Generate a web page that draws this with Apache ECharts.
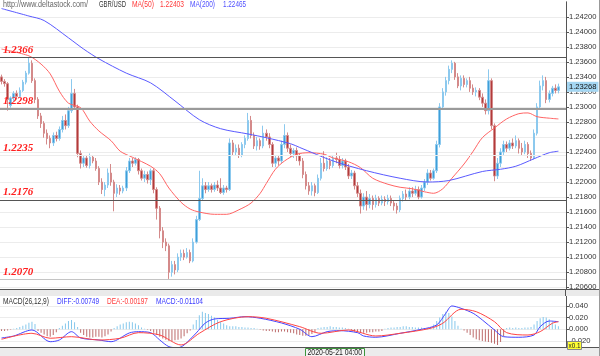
<!DOCTYPE html>
<html><head><meta charset="utf-8">
<script src="https://cdn.jsdelivr.net/npm/echarts@6/dist/echarts.min.js"></script>
<style>html,body{margin:0;padding:0;background:#fff}#c{width:600px;height:356px}</style>
</head><body><div id="c"></div>
<script>
// candles: [open, close, low, high] in pips above 1.2000
const ohlcPips = [
[340,334,330,343],[334,331,327,337],[331,310,295,333],[302,312,299,314],[312,318,308,321],
[318,314,310,322],[314,322,312,326],[322,333,320,336],[333,345,330,348],[345,358,343,366],
[358,335,332,362],[335,310,305,338],[310,288,284,313],[288,278,272,292],[278,265,259,281],
[265,258,250,270],[258,252,245,262],[252,262,248,266],[262,258,254,267],[258,270,255,274],
[270,282,266,288],[282,275,270,290],[275,295,272,300],[295,318,292,337],[318,300,296,324],
[300,238,233,303],[238,225,218,242],[225,232,220,236],[232,222,219,236],[222,233,218,238],
[233,228,225,236],[228,218,215,232],[218,200,196,221],[200,190,184,205],[190,196,181,200],
[196,212,192,218],[212,200,195,224],[200,185,161,203],[185,192,180,197],[192,188,183,196],
[188,192,185,195],[192,215,188,220],[215,228,212,232],[228,225,220,232],[225,230,222,233],
[230,215,210,232],[215,205,202,218],[205,210,200,215],[210,203,198,214],[203,215,196,218],
[215,190,185,218],[190,165,150,193],[165,135,125,168],[135,120,112,140],[120,115,108,125],
[115,80,71,118],[80,90,74,95],[90,83,77,95],[83,100,80,105],[100,105,95,110],
[105,100,96,110],[100,106,98,112],[106,95,92,110],[95,120,93,125],[120,150,118,155],
[150,178,148,215],[178,195,175,205],[195,190,185,200],[190,195,187,200],[195,190,186,198],
[190,196,187,200],[196,192,188,202],[192,186,184,205],[186,192,183,196],[192,190,186,195],
[190,252,188,258],[252,240,235,256],[240,245,236,250],[245,236,232,250],[236,250,233,253],
[250,258,245,262],[258,282,255,292],[282,262,258,288],[262,248,244,266],[248,255,242,260],
[255,248,243,258],[248,265,245,275],[265,260,255,270],[260,250,245,265],[250,225,220,253],
[225,232,220,236],[232,228,222,236],[228,250,225,255],[250,262,245,277],[262,245,240,266],
[245,238,233,250],[238,242,232,245],[242,235,228,246],[235,228,222,238],[228,210,205,232],
[210,195,190,214],[195,188,183,200],[188,195,182,200],[195,186,181,198],[186,205,184,210],
[205,225,202,232],[225,218,214,241],[218,228,215,233],[228,222,217,232],[222,232,219,236],
[232,230,225,239],[230,222,218,235],[222,228,218,232],[228,220,216,231],[220,208,204,224],
[208,212,204,216],[212,195,190,215],[195,185,180,200],[185,168,158,190],[168,180,163,185],
[180,170,162,188],[170,178,165,184],[178,170,163,182],[170,178,166,183],[178,172,168,181],
[172,177,169,182],[177,174,168,181],[174,178,170,183],[178,172,168,182],[172,168,162,176],
[168,163,158,172],[163,178,160,182],[178,184,174,188],[184,180,176,190],[180,188,177,193],
[188,185,180,193],[185,190,182,195],[190,180,177,194],[180,192,178,196],[192,200,188,204],
[200,212,196,217],[212,205,202,216],[205,215,203,218],[215,250,212,255],[250,300,246,305],
[300,320,296,325],[320,335,315,340],[335,350,330,355],[350,358,345,362],[358,340,336,360],
[340,328,325,345],[328,338,322,342],[338,330,326,342],[330,335,326,338],[335,325,320,340],
[325,320,316,330],[320,322,314,326],[322,313,309,325],[313,305,300,318],[305,295,290,310],
[295,335,290,350],[335,275,270,338],[275,208,201,278],[208,225,204,232],[225,240,220,245],
[240,250,236,255],[250,245,240,254],[245,252,242,256],[252,248,244,258],[248,255,245,262],
[255,245,238,258],[245,240,236,252],[240,250,237,255],[250,238,232,253],[238,232,228,242],
[232,265,230,270],[265,300,262,305],[300,328,296,335],[328,335,322,342],[335,310,305,340],
[310,318,306,322],[318,325,314,328],[325,322,318,330],[322,326.8,318,331]
];
// moving averages: [candle index, pips]
const ma50Pts = [[0,377],[9,368],[13,357],[16,344],[19,321],[22,305],[26,299],[29,281],[32,268],[36,255],
[39,241],[43,233],[49,221],[52,211],[55,192],[59,173],[62,164],[65,160],[70,157],[74,157],[78,163],
[82,172],[85,185],[87,198],[90,217],[93,228],[97,237],[101,239],[106,237],[109,232],[114,227],
[118,219],[122,205],[127,197],[131,193],[135,191],[139,187],[142,185],[145,191],[148,205],[152,224],
[155,241],[158,259],[162,272],[166,284],[170,291],[173,292],[176,287],[180,285],[183,284]];
const ma200Pts = [[0,431],[9,421],[14,415],[22,392],[27,377],[32,364],[41,345],[49,332],[57,308],
[65,283],[72,271],[81,264],[87,259],[95,251],[98,246],[109,228],[120,215],[131,205],[140,200],
[147,202],[158,214],[164,217],[169,221],[175,231],[180,239],[183,241]];
// MACD lines [candle index, value]
const diffPts = [[0,-0.0149],[4,-0.0115],[10,-0.0012],[16,-0.0213],[19,-0.0184],[23,-0.0041],[26,-0.0149],
[32,-0.0184],[36,-0.0213],[42,-0.0063],[45,-0.0041],[49,-0.0058],[52,-0.0184],[55,-0.0298],[58,-0.0316],
[60,-0.0269],[64,-0.0063],[67,0.0108],[70,0.0177],[75,0.0189],[80,0.0216],[85,0.0189],[92,0.0108],
[98,0.0],[102,-0.0127],[107,-0.0041],[111,-0.0024],[117,-0.0058],[119,-0.0115],[123,-0.0137],
[131,-0.0069],[138,0.0],[143,0.0074],[146,0.0274],[148,0.0400],[151,0.0360],[155,0.0274],[158,0.0160],
[162,-0.0012],[165,-0.0127],[170,-0.0137],[175,-0.0098],[177,0.0045],[180,0.0142],[183,0.0130]];
const deaPts = [[0,-0.0172],[10,-0.0069],[16,-0.0154],[23,-0.0127],[32,-0.0184],[39,-0.0154],[45,-0.0058],
[52,-0.0098],[59,-0.0269],[65,-0.0069],[72,0.0130],[81,0.0216],[87,0.0189],[98,0.0045],[105,-0.0069],
[114,-0.0012],[123,-0.0115],[131,-0.0069],[141,0.0017],[145,0.0103],[151,0.0343],[156,0.0302],
[162,0.0130],[166,-0.0058],[173,-0.0098],[177,-0.0041],[181,0.0103],[183,0.0130]];
// MACD histogram, units of 0.001
const macdHist = [-3,-3,-2,-1, 1,2,4,6,8,11,13, 9, -3,-6,-9,-12,-13, -10,-5, 2,6,10,14,16,12, 4,
-6,-10,-13,-14,-14,-13,-13,-14,-12,-9, -4, 2,5,8,10,12,13,12,10,7, 3,1,-1,
-3,-6,-10,-13,-16,-18,-20,-20,-19,-18,-16,-12, -7,-2, 8,16,24,30,28,26,23,20, 16,13,10,7,5,5,
5,4,4,3,3,2,2,1, -1,-2,-3,-3,-4,-5,-5,-4,-4,-5,-6,-7, -9,-10,-11,-11,-10,-8,-5,
2,3,4,4,5,4,4,3,3,2,1, -2,-4,-5,-5,-6,-6,-5,-5,-4,-4,-3, 1,2,3,3,4,4,5,5,4,4,3,3,3,2,2,
4,8,14,20,26,30,28,22,14,6, 1,-2, -6,-10,-14,-17,-19,-20,-21,-22,-23,-25,-27,-22,-12,
2,3,2,3,2,2,3,3,4, 8,14,19,21,20,17,12,8,5];
const levels = [1.2366, 1.2298, 1.2235, 1.2176, 1.2070];
const lastPrice = 1.23268;
const headerTexts = ['http://www.deltastock.com/', 'GBR/USD', 'MA(50)', '1.22403', 'MA(200)', '1.22465'];
const macdTexts = ['MACD(26,12,9)', 'DIFF:-0.00749', 'DEA:-0.00197', 'MACD:-0.01104'];
const timeLabel = '2020-05-21 04:00';

const toP = p => +(1.2 + p / 10000).toFixed(5);
const ohlc = ohlcPips.map(r => r.map(toP));
const categories = ohlc.map((_, i) => String(i)).concat(['', '']);
const ma50 = ma50Pts.map(([i, p]) => [i, toP(p)]);
const ma200 = ma200Pts.map(([i, p]) => [i, toP(p)]);
const hist = macdHist.map(v => ({value: v / 1000, itemStyle: {color: v >= 0 ? '#86c8ec' : '#bd6a6a'}}));

const NF = "'Liberation Sans',Arial,sans-serif";
const levelStyles = [
  {color: '#555', width: 1}, {color: '#9a9a9a', width: 2}, {color: '#ececec', width: 1},
  {color: '#555', width: 1}, {color: '#c4c4c4', width: 1}
];

const mctx = document.createElement('canvas').getContext('2d');
const fitText = (x0, x1, y, t, color, size) => {
  const font = (size || 9) + 'px ' + NF;
  mctx.font = font;
  const w = mctx.measureText(t).width || 1;
  return {type: 'text', z: 101, x: x0, y, scaleX: (x1 - x0) / w,
    style: {text: t, fill: color, font, textVerticalAlign: 'middle'}};
};

const chart = echarts.init(document.getElementById('c'), null, {renderer: 'canvas'});
const axisLabelStyle = {fontSize: 7.6, color: '#333', margin: 3, fontFamily: NF, showMinLabel: false, showMaxLabel: false};

chart.setOption({
  animation: false,
  backgroundColor: '#fff',
  grid: [
    {left: 0, width: 566, top: 1.78, height: 300.4},
    {left: 0, width: 566, top: 294.3, height: 58.3}
  ],
  xAxis: [
    {type: 'category', gridIndex: 0, data: categories, boundaryGap: true, show: false},
    {type: 'category', gridIndex: 1, data: categories, boundaryGap: true, show: false}
  ],
  yAxis: [
    {type: 'value', gridIndex: 0, position: 'right', min: 1.204, max: 1.244, interval: 0.002,
     axisLine: {show: true, lineStyle: {color: '#555'}}, axisTick: {show: true, length: 3, lineStyle: {color: '#555'}},
     axisLabel: Object.assign({formatter: v => v.toFixed(5)}, axisLabelStyle),
     splitLine: {show: true, showMinLine: false, showMaxLine: false, lineStyle: {color: '#ececec'}}},
    {type: 'value', gridIndex: 1, position: 'right', min: -0.04, max: 0.06, interval: 0.02,
     axisLine: {show: true, lineStyle: {color: '#555'}}, axisTick: {show: true, length: 3, lineStyle: {color: '#555'}},
     axisLabel: Object.assign({formatter: v => v.toFixed(3)}, axisLabelStyle),
     splitLine: {show: true, showMinLine: false, showMaxLine: false, lineStyle: {color: '#ececec'}}}
  ],
  series: [
    {type: 'candlestick', xAxisIndex: 0, yAxisIndex: 0, data: ohlc, barWidth: 2,
     itemStyle: {color: '#3f9fd8', color0: '#b23b3b', borderColor: '#8cc9ee', borderColor0: '#d48a8a', borderWidth: 1},
     markLine: {silent: true, symbol: ['none', 'none'], animation: false, precision: 5,
       data: levels.map((v, k) => ({yAxis: v, lineStyle: Object.assign({type: 'solid'}, levelStyles[k]),
         label: {show: true, position: 'insideStartTop', distance: [3, 2], formatter: v.toFixed(4), color: '#ff2020',
           fontStyle: 'italic', fontWeight: 'bold', fontSize: 11, fontFamily: "'Liberation Serif',serif"}}))
         .concat([{yAxis: lastPrice, lineStyle: {color: 'rgba(0,0,0,0)', width: 1},
           label: {show: true, position: 'end', distance: 1, formatter: lastPrice.toFixed(5), color: '#111',
             backgroundColor: '#a4d6f2', padding: [1, 2, 1, 2], fontSize: 7.6, fontFamily: NF}}])
     }},
    {type: 'line', xAxisIndex: 0, yAxisIndex: 0, data: ma50, smooth: 0.3, showSymbol: false,
     lineStyle: {color: '#ff6464', width: 1}, z: 3},
    {type: 'line', xAxisIndex: 0, yAxisIndex: 0, data: ma200, smooth: 0.3, showSymbol: false,
     lineStyle: {color: '#5a5aff', width: 1}, z: 3},
    {type: 'bar', xAxisIndex: 1, yAxisIndex: 1, data: hist, barWidth: 1},
    {type: 'line', xAxisIndex: 1, yAxisIndex: 1, data: diffPts, smooth: 0.3, showSymbol: false,
     lineStyle: {color: '#4444ff', width: 1}, z: 3},
    {type: 'line', xAxisIndex: 1, yAxisIndex: 1, data: deaPts, smooth: 0.3, showSymbol: false,
     lineStyle: {color: '#ff4444', width: 1}, z: 3}
  ],
  graphic: [
    fitText(3, 88, 5, headerTexts[0], '#666'),
    fitText(99, 126, 5, headerTexts[1], '#333'),
    fitText(132, 154, 5, headerTexts[2], '#ff3a3a'),
    fitText(160, 184, 5, headerTexts[3], '#ff3a3a'),
    fitText(190, 215, 5, headerTexts[4], '#5050ff'),
    fitText(223, 246, 5, headerTexts[5], '#5050ff'),
    {type: 'rect', z: 99, shape: {x: 0, y: 289, width: 600, height: 7}, style: {fill: '#eaeaea'}},
    {type: 'line', z: 100, shape: {x1: 0, y1: 289.5, x2: 600, y2: 289.5}, style: {stroke: '#555', lineWidth: 1}},
    {type: 'line', z: 100, shape: {x1: 565.5, y1: 289, x2: 565.5, y2: 296}, style: {stroke: '#555', lineWidth: 1}},
    fitText(3, 49, 301.5, macdTexts[0], '#333'),
    fitText(57, 99, 301.5, macdTexts[1], '#3a3aff'),
    fitText(107, 148, 301.5, macdTexts[2], '#ff3a3a'),
    fitText(156, 203, 301.5, macdTexts[3], '#3a3aff'),
    {type: 'rect', z: 99, shape: {x: 0, y: 347.5, width: 600, height: 9}, style: {fill: '#ececec'}},
    {type: 'line', z: 100, shape: {x1: 0, y1: 347.5, x2: 600, y2: 347.5}, style: {stroke: '#555', lineWidth: 1}},
    {type: 'line', z: 100, shape: {x1: 599.5, y1: 0, x2: 599.5, y2: 356}, style: {stroke: '#999', lineWidth: 1}},
    {type: 'rect', z: 100, shape: {x: 305.5, y: 348.5, width: 59, height: 9}, style: {fill: '#f4f4f4', stroke: '#3c963c', lineWidth: 1}},
    fitText(307.5, 362, 353, timeLabel, '#222', 8.5),
    {type: 'rect', z: 100, shape: {x: 567.5, y: 341.5, width: 14, height: 8}, style: {fill: '#ffff33', stroke: '#888', lineWidth: 1}},
    fitText(568.5, 580.5, 345.5, 'x0.1', '#222', 8)
  ]
});
</script></body></html>
